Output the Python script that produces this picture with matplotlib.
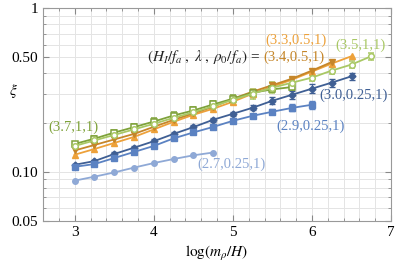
import numpy as np
import matplotlib
matplotlib.use("Agg")
import matplotlib.pyplot as plt
from matplotlib.ticker import FixedLocator, NullFormatter

plt.rcParams['font.family'] = ['Liberation Serif', 'DejaVu Serif']
plt.rcParams['mathtext.fontset'] = 'stix'

# data: x = log(m_rho/H), y = xi
x_27 = [3.0, 3.25, 3.5, 3.75, 4.0, 4.25, 4.5, 4.75]
y_27 = [0.0883, 0.0934, 0.0991, 0.1061, 0.1131, 0.1197, 0.1261, 0.1312]

x_29 = [3.0, 3.25, 3.5, 3.75, 4.0, 4.25, 4.5, 4.75, 5.0, 5.25, 5.5, 5.75, 6.0]
y_29 = [0.1073, 0.1115, 0.1214, 0.1322, 0.1439, 0.160, 0.174, 0.188, 0.205, 0.220, 0.233, 0.246, 0.257]
e_29 = [0.002, 0.002, 0.002, 0.003, 0.003, 0.004, 0.004, 0.005, 0.006, 0.007, 0.008, 0.012, 0.015]

x_30 = [3.0, 3.25, 3.5, 3.75, 4.0, 4.25, 4.5, 4.75, 5.0, 5.25, 5.5, 5.75, 6.0, 6.25, 6.5]
y_30 = [0.1104, 0.1163, 0.1285, 0.1404, 0.1538, 0.1705, 0.1875, 0.208, 0.2263, 0.2464, 0.272, 0.296, 0.3224, 0.351, 0.3837]
e_30 = [0.002, 0.002, 0.003, 0.003, 0.004, 0.004, 0.005, 0.006, 0.007, 0.009, 0.013, 0.016, 0.020, 0.020, 0.020]

x_33 = [3.0, 3.25, 3.5, 3.75, 4.0, 4.25, 4.5, 4.75, 5.0, 5.25, 5.5, 5.75, 6.0, 6.25, 6.5]
y_33 = [0.1272, 0.1379, 0.1501, 0.1634, 0.1817, 0.2021, 0.2231, 0.2429, 0.2682, 0.3004, 0.3316, 0.3661, 0.410, 0.459, 0.509]

x_34 = [3.0, 3.25, 3.5, 3.75, 4.0, 4.25, 4.5, 4.75, 5.0, 5.25, 5.5, 5.75, 6.0, 6.25]
y_34 = [0.1350, 0.1459, 0.1577, 0.1705, 0.1883, 0.2078, 0.2279, 0.2498, 0.2798, 0.309, 0.3388, 0.3714, 0.4158, 0.469]

x_35 = [3.0, 3.25, 3.5, 3.75, 4.0, 4.25, 4.5, 4.75, 5.0, 5.25, 5.5, 5.75, 6.0, 6.25, 6.5, 6.75]
y_35 = [0.1439, 0.1555, 0.1681, 0.1817, 0.1965, 0.2138, 0.2312, 0.2516, 0.2759, 0.3004, 0.327, 0.351, 0.3766, 0.4158, 0.4527, 0.509]
e_35 = [0.003, 0.004, 0.005, 0.006, 0.007, 0.009, 0.011, 0.013, 0.016, 0.022, 0.025, 0.022, 0.020, 0.020, 0.022, 0.025]

x_37 = [3.0, 3.25, 3.5, 3.75, 4.0, 4.25, 4.5, 4.75, 5.0, 5.25, 5.5, 5.75]
y_37 = [0.148, 0.1595, 0.1737, 0.1875, 0.2029, 0.2209, 0.2371, 0.2581, 0.2798, 0.3046, 0.3192, 0.330]
e_37 = [0.004, 0.005, 0.006, 0.008, 0.009, 0.011, 0.012, 0.013, 0.013, 0.013, 0.012, 0.012]

c_27 = '#8fa9d6'
c_29 = '#5b82c2'
c_30 = '#3f5f94'
c_33 = '#eda13a'
c_34 = '#c5862a'
c_35 = '#a9c865'
c_37 = '#7ea23a'

fig = plt.figure(figsize=(3.95, 2.66), dpi=100)
ax = fig.add_axes([0.109, 0.169, 0.881, 0.80])

ax.set_yscale('log')
ax.set_xlim(2.6, 7.0)
ax.set_ylim(0.05, 1.0)

kw = dict(lw=1.3, ms=4, elinewidth=0.8, capsize=2)
ax.errorbar(x_37, y_37, yerr=e_37, color=c_37, marker='s', mfc='white', mew=1.1, zorder=3, **kw)
ax.errorbar(x_35, y_35, yerr=e_35, color=c_35, marker='o', mfc='white', mew=1.1, zorder=3, **kw)
ax.plot(x_33, y_33, color=c_33, marker='^', lw=1.3, ms=4.5, zorder=3)
ax.plot(x_34, y_34, color=c_34, marker='v', lw=1.3, ms=4.5, zorder=3)
ax.errorbar(x_30, y_30, yerr=e_30, color=c_30, marker='D', ms=3.5, lw=1.3, elinewidth=0.8, capsize=2, zorder=3)
ax.errorbar(x_29, y_29, yerr=e_29, color=c_29, marker='s', **kw, zorder=3)
ax.plot(x_27, y_27, color=c_27, marker='o', lw=1.3, ms=4, zorder=3)

# ticks and grid in the Mathematica style
ax.xaxis.set_major_locator(FixedLocator([3, 4, 5, 6, 7]))
ax.xaxis.set_minor_locator(FixedLocator(np.arange(2.6, 7.01, 0.2)))
ax.yaxis.set_major_locator(FixedLocator([0.05, 0.1, 0.5, 1.0]))
ax.yaxis.set_minor_locator(FixedLocator([0.06, 0.07, 0.08, 0.09, 0.2, 0.3, 0.4, 0.6, 0.7, 0.8, 0.9]))
ax.yaxis.set_minor_formatter(NullFormatter())
ax.set_yticklabels(['0.05', '0.10', '0.50', '1'])
ax.grid(True, which='both', color='#e4e4e4', lw=0.7, zorder=0)
ax.set_axisbelow(True)
ax.tick_params(which='both', direction='in', top=True, right=True, labelsize=11, color='#888888')
ax.tick_params(which='major', length=4)
ax.tick_params(which='minor', length=2)
for s in ax.spines.values():
    s.set_color('#999999')

ax.set_xlabel(r'$\log(m_\rho/H)$', fontsize=11, labelpad=4)
ax.set_ylabel(r'$\xi$', fontsize=11, rotation=0)
ax.yaxis.set_label_coords(-0.085, 0.57)

fs = 10.5
ax.text(5.36, 0.505, r'$(H_I/f_a\;,\;\lambda\;,\;\rho_0/f_a)$ = ', ha='right', va='center', fontsize=11, color='#222222')
ax.text(5.39, 0.505, '(3.4,0.5,1)', ha='left', va='center', fontsize=fs, color=c_34)
ax.text(5.41, 0.636, '(3.3,0.5,1)', ha='left', va='center', fontsize=fs, color=c_33)
ax.text(6.29, 0.59, '(3.5,1,1)', ha='left', va='center', fontsize=fs, color=c_35)
ax.text(6.10, 0.292, '(3.0,0.25,1)', ha='left', va='center', fontsize=fs, color=c_30)
ax.text(5.55, 0.191, '(2.9,0.25,1)', ha='left', va='center', fontsize=fs, color=c_29)
ax.text(4.55, 0.1115, '(2.7,0.25,1)', ha='left', va='center', fontsize=fs, color=c_27)
ax.text(2.67, 0.188, '(3.7,1,1)', ha='left', va='center', fontsize=fs, color=c_37)

fig.savefig('out.png', dpi=100)
